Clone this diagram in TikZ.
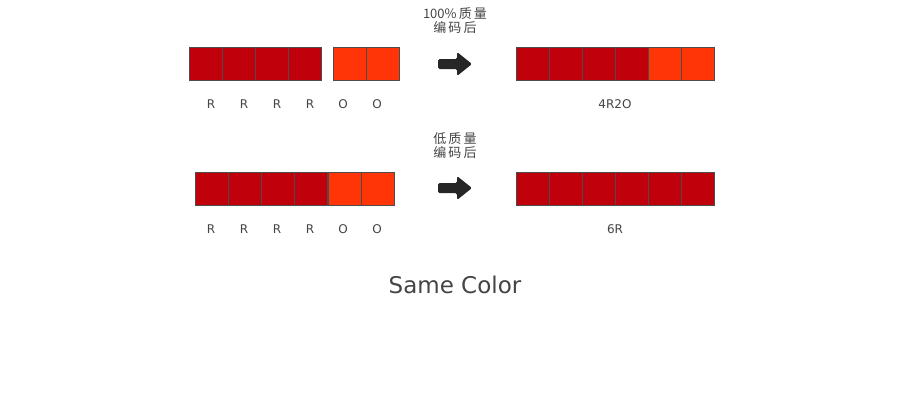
\documentclass[tikz,border=0pt]{standalone}
\usepackage{fontspec}
\setmainfont{DejaVu Sans}
\newfontfamily\cjk{Noto Sans CJK SC}
\definecolor{dred}{HTML}{C0000B}
\definecolor{org}{HTML}{FF3508}
\definecolor{txt}{HTML}{444444}
\begin{document}
\begin{tikzpicture}[x=1pt,y=-1pt,
  sq/.style={draw=black!70,line width=0.6pt,minimum size=33pt,inner sep=0,anchor=north west},
  rsq/.style={sq,fill=dred}, osq/.style={sq,fill=org},
  lab/.style={text=txt,font=\fontsize{12}{12}\selectfont},
  captxt/.style={text=txt,font=\cjk\fontsize{13}{14}\selectfont,align=center}]
\useasboundingbox (0,0) rectangle (910,400);
\foreach \i/\x/\c in {1/189/rsq,2/222/rsq,3/255/rsq,4/288/rsq,5/333/osq,6/366/osq}
  \node[\c] (a\i) at (\x,47) {};
\foreach \i/\x/\c in {1/516/rsq,2/549/rsq,3/582/rsq,4/615/rsq,5/648/osq,6/681/osq}
  \node[\c] (b\i) at (\x,47) {};
\foreach \i/\x/\c in {1/195/rsq,2/228/rsq,3/261/rsq,4/294/rsq,5/328/osq,6/361/osq}
  \node[\c] (c\i) at (\x,172) {};
\foreach \i/\x in {1/516,2/549,3/582,4/615,5/648,6/681}
  \node[rsq] (d\i) at (\x,172) {};
\foreach \i/\x/\t in {1/211/R,2/244/R,3/277/R,4/310/R,5/343/O,6/377/O}{
  \node[lab] (la\i) at (\x,104) {\t};
  \node[lab] (lc\i) at (\x,229) {\t};}
\node[lab] (lb) at (615,104) {4R2O};
\node[lab] (ld) at (615,229) {6R};
\node[captxt] (t1) at (455,21) {100\%\,质\,量\\编\,码\,后};
\node[captxt] (t2) at (455,146) {低\,质\,量\\编\,码\,后};
\foreach \y in {64,188}
  \fill[black!85,rounded corners=1.5pt] (438,\y-5) -- (457,\y-5) -- (457,\y-12) -- (472,\y) -- (457,\y+12) -- (457,\y+5) -- (438,\y+5) -- cycle;
\node[text=txt,font=\fontsize{23}{24}\selectfont] (sc) at (455,285) {Same Color};
\end{tikzpicture}
\end{document}
